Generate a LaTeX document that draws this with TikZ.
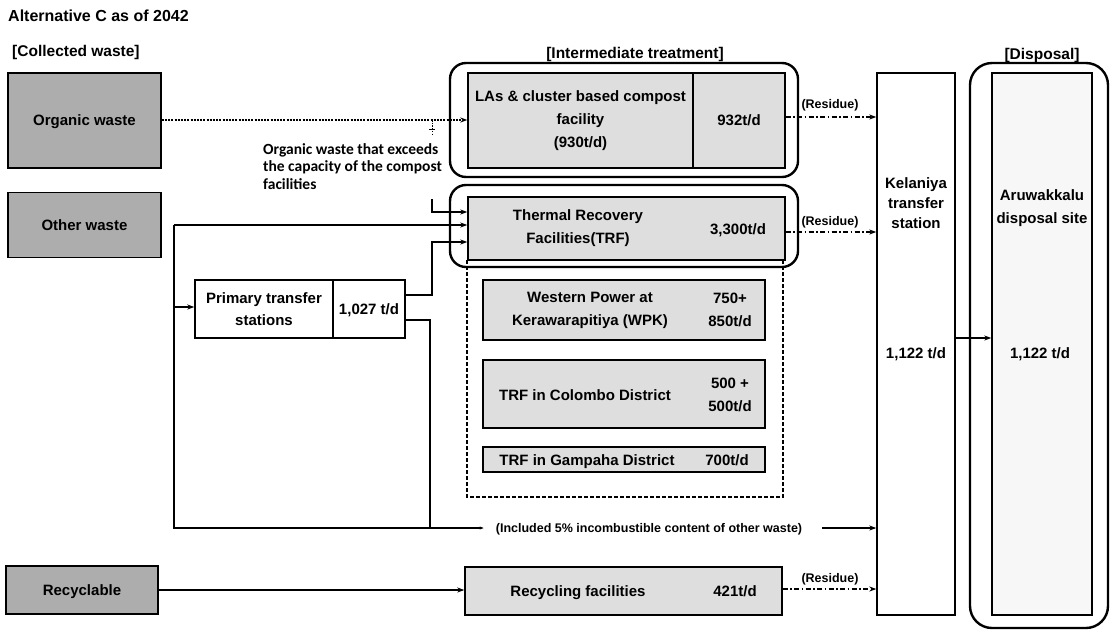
\documentclass[tikz,border=0pt]{standalone}
\usepackage{fontspec}
\setmainfont{Liberation Sans}
\newfontfamily\calibfont{Carlito}
\usetikzlibrary{arrows.meta,calc}
\begin{document}
\begin{tikzpicture}[x=1pt,y=-1pt,
 box/.style={draw, line width=1.4pt, inner sep=0pt, anchor=center},
 dark/.style={fill=black!32},
 light/.style={fill=black!13},
 faint/.style={fill=black!3},
 lbl/.style={inner sep=0pt, align=center, font=\bfseries\fontsize{15}{23}\selectfont},
 one/.style={text height=11pt, text depth=0.5pt},
 head/.style={inner sep=0pt, font=\bfseries\fontsize{15.5}{18}\selectfont},
 small/.style={inner sep=0pt, font=\bfseries\fontsize{12.5}{14}\selectfont, text height=9pt, text depth=0.5pt},
 group/.style={draw, line width=2.4pt, rounded corners=16pt},
 conn/.style={line width=1.1pt},
 arr/.style={-{Stealth[length=7pt,width=5pt]}},
 orgline/.style={line width=1.1pt, dash pattern=on 2pt off 1.2pt},
 resid/.style={line width=1.1pt, dash pattern=on 5pt off 2.5pt on 1.5pt off 2.5pt},
]
\useasboundingbox (0,0) rectangle (1113,630);
\fill[white] (0,0) rectangle (1113,630);

% headings
\node[anchor=west, inner sep=0pt, font=\bfseries\fontsize{16}{18}\selectfont] (title) at (8,16) {Alternative C as of 2042};
\node[head, anchor=west] (collab) at (12,52) {[Collected waste]};
\node[head] (intlab) at (635,54) {[Intermediate treatment]};
\node[head] (displab) at (1042,55) {[Disposal]};

% group frames
\draw[group] (450,63) rectangle (798,177);
\draw[group] (450,185) rectangle (798,267);
\draw[group, rounded corners=22pt] (970,63) rectangle (1108,628);
\draw[line width=1.1pt, dash pattern=on 4pt off 2pt] (467,260) -- (467,497) -- (783,497) -- (783,260);

% collected waste
\node[box, dark, minimum width=153pt, minimum height=95pt] (org) at (84.5,120.5) {};
\node[lbl, one] (orgt) at (org.center) {Organic waste};
\node[box, dark, minimum width=153pt, minimum height=65pt] (oth) at (84.5,225) {};
\node[lbl, one] (otht) at (oth.center) {Other waste};
\node[box, dark, minimum width=152pt, minimum height=48pt] (rec) at (82,590) {};
\node[lbl, one] (rect) at (rec.center) {Recyclable};

% primary transfer
\node[box, minimum width=138pt, minimum height=58pt] (pts) at (264,309) {};
\node[lbl, font=\bfseries\fontsize{15}{22}\selectfont] (ptst) at (pts.center) {Primary transfer\\stations};
\node[box, minimum width=72pt, minimum height=58pt] (ptsv) at (369,309) {};
\node[lbl, one] (ptsvt) at (ptsv.center) {1,027 t/d};

% compost
\node[box, light, minimum width=225pt, minimum height=95pt] (compL) at (580.5,120.5) {};
\node[lbl] (compLt) at (compL.center) {LAs \& cluster based compost\\facility\\(930t/d)};
\node[box, light, minimum width=92pt, minimum height=95pt] (compR) at (739,120.5) {};
\node[lbl, one] (compRt) at (compR.center) {932t/d};

% TRF
\node[box, light, minimum width=317pt, minimum height=63pt] (trf) at (626.5,228.5) {};
\node[lbl] (trft) at (578,228.5) {Thermal Recovery\\Facilities(TRF)};
\node[lbl, one] (trfv) at (738,229) {3,300t/d};

% WPK
\node[box, light, minimum width=282pt, minimum height=60pt] (wpk) at (624,310) {};
\node[lbl] (wpkt) at (590,310) {Western Power at\\Kerawarapitiya (WPK)};
\node[lbl] (wpkv) at (730,310) {750+\\850t/d};

% Colombo
\node[box, light, minimum width=282pt, minimum height=68pt] (col) at (624,394) {};
\node[lbl, one] (colt) at (585,395) {TRF in Colombo District};
\node[lbl] (colv) at (730,395) {500 +\\500t/d};

% Gampaha
\node[box, light, minimum width=282pt, minimum height=25pt] (gam) at (624,459.5) {};
\node[lbl, one] (gamt) at (587,460) {TRF in Gampaha District};
\node[lbl, one] (gamv) at (727,460) {700t/d};

% recycling
\node[box, light, minimum width=317pt, minimum height=48pt] (recf) at (623.5,591) {};
\node[lbl, one] (recft) at (578,591) {Recycling facilities};
\node[lbl, one] (recfv) at (735,591) {421t/d};

% Kelaniya
\node[box, minimum width=78pt, minimum height=542pt] (kel) at (916,344) {};
\node[lbl, font=\bfseries\fontsize{15}{20}\selectfont] (kelt) at (916,203) {Kelaniya\\transfer\\station};
\node[lbl, one] (kelv) at (916,353) {1,122 t/d};

% Aruwakkalu
\node[box, faint, minimum width=100pt, minimum height=542pt] (aru) at (1042,344) {};
\node[lbl, font=\bfseries\fontsize{15}{23}\selectfont] (arut) at (1042,208) {Aruwakkalu\\disposal site};
\node[lbl, one] (aruv) at (1040,353) {1,122 t/d};

% excess note
\node[anchor=north west, inner sep=0pt, align=left, font=\calibfont\bfseries\fontsize{15.5}{17.5}\selectfont] (note) at (263,143) {Organic waste that exceeds\\the capacity of the compost\\facilities};

% incombustible label
\node[small] (inc) at (649,528) {(Included 5\% incombustible content of other waste)};

% residue labels
\node[small] (r1) at (830,104) {(Residue)};
\node[small] (r2) at (830,221) {(Residue)};
\node[small] (r3) at (830,578) {(Residue)};

% coordinates
\coordinate (brA) at (432,120);
\coordinate (brB) at (432,134);
\coordinate (exA) at (432,199);
\coordinate (exB) at (432,212);
\coordinate (vo) at (174,225);
\coordinate (vb) at (174,528);
\coordinate (pA) at (432,295);
\coordinate (pB) at (432,242);
\coordinate (qA) at (430,320);
\coordinate (qB) at (430,528);
\coordinate (incE) at ($(inc.east)+(20,0)$);
\coordinate (incW) at ($(inc.west)+(-12,0)$);

% connectors
\draw[orgline, arr] (org.east |- brA) -- (compL.west |- brA);
\draw[line width=1pt, dash pattern=on 1.5pt off 1.2pt] (brA) -- (brB);
\draw[line width=1pt] ($(brA)+(-3,9)$) -- ($(brA)+(3,9)$);
\draw[conn, arr] (exA) -- (exB) -- (trf.west |- exB);
\draw[conn, arr] (vo) -- (trf.west |- vo);
\draw[conn, -{Stealth[length=4pt,width=3pt]}] (vo) -- (vb) -- (incW |- vb);
\draw[conn, arr] (incE) -- (kel.west |- vb);
\draw[conn, arr] (174,307) -- (pts.west |- 0,307);
\draw[conn, arr] (ptsv.east |- pA) -- (pA) -- (pB) -- (trf.west |- pB);
\draw[conn] (ptsv.east |- qA) -- (qA) -- (qB);
\draw[resid, arr] (compR.east |- 0,117) -- (kel.west |- 0,117);
\draw[resid, arr] (trf.east |- 0,232) -- (kel.west |- 0,232);
\draw[resid, arr] (recf.east |- 0,589) -- (kel.west |- 0,589);
\draw[conn, arr] (rec.east) -- (recf.west |- rec.east);
\draw[conn, arr] (kel.east |- 0,338) -- (aru.west |- 0,338);
\end{tikzpicture}
\end{document}
